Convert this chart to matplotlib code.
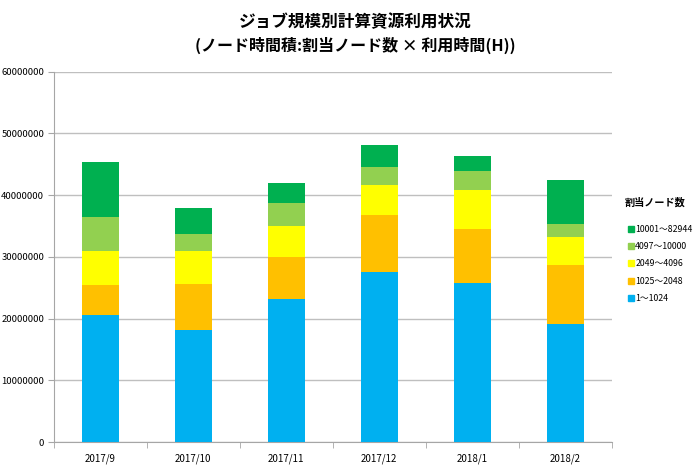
import numpy as np
import matplotlib
matplotlib.use("Agg")
import matplotlib.pyplot as plt
from matplotlib.lines import Line2D

plt.rcParams["font.family"] = ["Noto Sans CJK JP", "DejaVu Sans"]

MONTHS = ["2017/9", "2017/10", "2017/11", "2017/12", "2018/1", "2018/2"]
SERIES_NAMES = ["1～1024", "1025～2048", "2049～4096", "4097～10000", "10001～82944"]
COLORS = ["#00B0F0", "#FFC000", "#FFFF00", "#92D050", "#00B050"]

# node-hours per size class
nodes_1_1024 = [20500000, 18200000, 23200000, 27600000, 25700000, 19200000]
nodes_1025_2048 = [4900000, 7400000, 6800000, 9100000, 8800000, 9400000]
nodes_2049_4096 = [5500000, 5300000, 5000000, 5000000, 6300000, 4600000]
nodes_4097_10000 = [5600000, 2800000, 3800000, 2800000, 3100000, 2100000]
nodes_10001_82944 = [8800000, 4200000, 3100000, 3600000, 2500000, 7200000]

series = [nodes_1_1024, nodes_1025_2048, nodes_2049_4096, nodes_4097_10000, nodes_10001_82944]

fig = plt.figure(figsize=(7, 4.76), dpi=100)
ax = fig.add_axes([0.077, 0.0714, 0.797, 0.778])

x = np.arange(len(MONTHS))
bottom = np.zeros(len(MONTHS))
for vals, color in zip(series, COLORS):
    ax.bar(x, vals, 0.4, bottom=bottom, color=color, zorder=3)
    bottom += np.array(vals)

ax.set_xlim(-0.5, len(MONTHS) - 0.5)
ax.set_ylim(0, 60000000)
ax.set_yticks(np.arange(0, 60000001, 10000000))
ax.set_yticklabels([str(v) for v in range(0, 60000001, 10000000)])
ax.set_xticks(x)
ax.set_xticklabels(MONTHS)
ax.set_xticks(np.arange(-0.5, len(MONTHS), 1), minor=True)
ax.tick_params(axis="x", which="major", length=0, labelsize=7, pad=8)
ax.tick_params(axis="x", which="minor", length=4, color="#a6a6a6", direction="out")
ax.tick_params(axis="y", length=4, color="#a6a6a6", labelsize=6.8, pad=3)

ax.grid(axis="y", color="#bfbfbf", linewidth=1, zorder=0)
for s in ["top", "right"]:
    ax.spines[s].set_visible(False)
for s in ["left", "bottom"]:
    ax.spines[s].set_color("#a6a6a6")

handles = [Line2D([], [], marker="s", linestyle="none", markersize=4.5, color=c)
           for c in COLORS[::-1]]
fig.legend(handles, SERIES_NAMES[::-1], loc="center left",
           bbox_to_anchor=(0.895, 0.4454), frameon=False,
           fontsize=6.3, handletextpad=0.0, labelspacing=0.95,
           handlelength=1.0, borderaxespad=0, borderpad=0)
fig.text(0.893, 0.574, "割当ノード数", ha="left", va="center",
         fontsize=7.3, fontweight="bold")

fig.text(0.507, 0.954, "ジョブ規模別計算資源利用状況", ha="center", va="center",
         fontsize=12, fontweight="bold")
fig.text(0.507, 0.905, "(ノード時間積:割当ノード数 × 利用時間(H))", ha="center",
         va="center", fontsize=11.5, fontweight="bold")

fig.savefig("out.png", dpi=100)
